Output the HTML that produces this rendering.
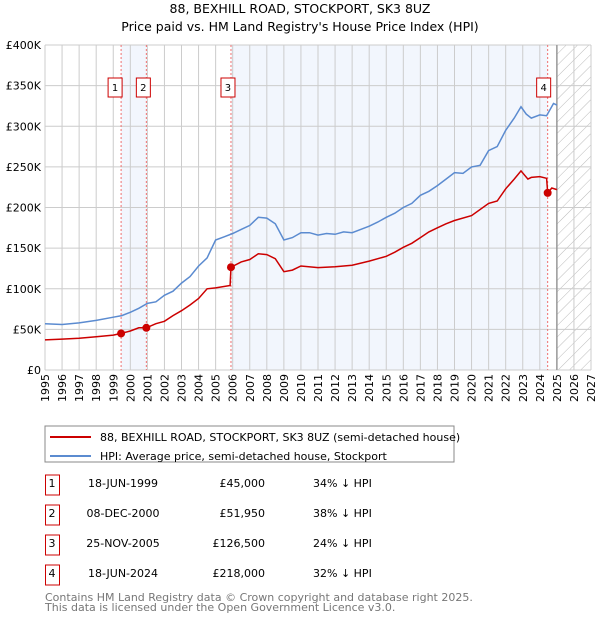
<!DOCTYPE html>
<html><head><meta charset="utf-8"><style>
body{margin:0;width:600px;height:620px;background:#fff;font-family:"Liberation Sans","DejaVu Sans",sans-serif;overflow:hidden}
svg text{font-family:"DejaVu Sans","Liberation Sans",sans-serif}
</style></head><body>
<svg id="c" width="600" height="620">
<defs><pattern id="hatch" width="8" height="8" patternUnits="userSpaceOnUse" patternTransform="rotate(45)"><line x1="0" y1="0" x2="0" y2="8" stroke="#bbb" stroke-width="1"/></pattern></defs>
<text x="300" y="13" text-anchor="middle" font-size="12.5">88, BEXHILL ROAD, STOCKPORT, SK3 8UZ</text>
<text x="300" y="31" text-anchor="middle" font-size="12.5">Price paid vs. HM Land Registry's House Price Index (HPI)</text>
<g id="plot"></g>
<rect x="45" y="426" width="409" height="36" fill="#fff" stroke="#888"/>
<line x1="50" y1="437" x2="91" y2="437" stroke="#cc0000" stroke-width="2"/>
<text x="100" y="441" font-size="11">88, BEXHILL ROAD, STOCKPORT, SK3 8UZ (semi-detached house)</text>
<line x1="50" y1="456" x2="91" y2="456" stroke="#5b8bd0" stroke-width="2"/>
<text x="100" y="460" font-size="11">HPI: Average price, semi-detached house, Stockport</text>
<g id="tbl" font-size="11"></g>
<text x="45" y="601" font-size="11" fill="#777">Contains HM Land Registry data © Crown copyright and database right 2025.</text>
<text x="45" y="611" font-size="11" fill="#777">This data is licensed under the Open Government Licence v3.0.</text>
</svg>
<script>
const hpiT=[1995,1996,1997,1998,1999,1999.5,2000,2000.5,2001,2001.5,2002,2002.5,2003,2003.5,2004,2004.5,2005,2005.5,2006,2006.5,2007,2007.5,2008,2008.5,2009,2009.5,2010,2010.5,2011,2011.5,2012,2012.5,2013,2013.5,2014,2014.5,2015,2015.5,2016,2016.5,2017,2017.5,2018,2018.5,2019,2019.5,2020,2020.5,2021,2021.5,2022,2022.5,2022.9,2023.2,2023.5,2024,2024.4,2024.8,2025];
const hpiV=[57,56,58,61,65,67,71,76,82,84,92,97,107,115,128,138,160,164,168,173,178,188,187,180,160,163,169,169,166,168,167,170,169,173,177,182,188,193,200,205,215,220,227,235,243,242,250,252,270,275,295,310,324,315,310,314,313,328,326];
const ppT=[1995,1996,1997,1998,1999,1999.46,2000,2000.5,2000.94,2001.5,2002,2002.5,2003,2003.5,2004,2004.5,2005,2005.85,2005.9,2006.5,2007,2007.5,2008,2008.5,2009,2009.5,2010,2011,2012,2013,2014,2015,2015.5,2016,2016.5,2017,2017.5,2018,2018.5,2019,2020,2021,2021.5,2022,2022.5,2022.9,2023.3,2023.5,2024,2024.4,2024.46,2024.7,2025];
const ppV=[37,38,39,41,43,45,48,52,51.95,57,60,67,73,80,88,100,101,104,126.5,133,136,143,142,137,121,123,128,126,127,129,134,140,145,151,156,163,170,175,180,184,190,205,208,223,235,245,235,237,238,236,218,224,222];
const saleT=[1999.46,2000.94,2005.9,2024.46];
const saleV=[45,51.95,126.5,218];
const saleLabels=["1","2","3","4"];
const saleDates=["18-JUN-1999","08-DEC-2000","25-NOV-2005","18-JUN-2024"];
const salePrices=["£45,000","£51,950","£126,500","£218,000"];
const saleHpi=["34% ↓ HPI","38% ↓ HPI","24% ↓ HPI","32% ↓ HPI"];
const yTicks=[0,50,100,150,200,250,300,350,400];
const yTickLabels=["£0","£50K","£100K","£150K","£200K","£250K","£300K","£350K","£400K"];
const X0=45,X1=591,Y0=370,Y1=45;
const xs=t=>X0+(t-1995)*(X1-X0)/32, ys=v=>Y0-v*(Y0-Y1)/400;
const NS="http://www.w3.org/2000/svg";
function mk(p,tag,a){const e=document.createElementNS(NS,tag);for(const k in a)e.setAttribute(k,a[k]);p.appendChild(e);return e;}
const g=document.getElementById('plot');
let e;
e=mk(g,'rect',{x:X0,y:Y1,width:X1-X0,height:Y0-Y1,fill:'#fff'});


e=mk(g,'rect',{x:xs(saleT[0]),y:Y1,width:xs(saleT[1])-xs(saleT[0]),height:Y0-Y1,fill:'#f2f6fd'});


e=mk(g,'rect',{x:xs(saleT[2]),y:Y1,width:xs(saleT[3])-xs(saleT[2]),height:Y0-Y1,fill:'#f2f6fd'});


e=mk(g,'rect',{x:xs(2025),y:Y1,width:X1-xs(2025),height:Y0-Y1,fill:'url(#hatch)'});


for(let y=1995;y<=2027;y++){e=mk(g,'line',{x1:xs(y),x2:xs(y),y1:Y1,y2:Y0,stroke:'#ccc','stroke-width':1});


const t=mk(g,'text',{x:0,y:0,'font-size':11,'text-anchor':'end',transform:`translate(${xs(y)+4},${Y0+4}) rotate(-90)`});t.textContent=y;

}
yTicks.forEach((v,i)=>{e=mk(g,'line',{x1:X0,x2:X1,y1:ys(v),y2:ys(v),stroke:'#ccc','stroke-width':1});


const t=mk(g,'text',{x:X0-4,y:ys(v)+4,'font-size':11,'text-anchor':'end'});t.textContent=yTickLabels[i];

});
e=mk(g,'line',{x1:xs(2025),x2:xs(2025),y1:Y1,y2:Y0,stroke:'#999','stroke-width':1.5});


saleT.forEach((t,i)=>{e=mk(g,'line',{x1:xs(t),x2:xs(t),y1:Y1,y2:Y0,stroke:'#f07070','stroke-dasharray':'2,2','stroke-width':1});


const r=mk(g,'rect',{x:xs(t)-(i<3?10:9)+(i==0?-3:i==3?-2:0),y:78,width:14,height:19,fill:'#fff',stroke:'#cc0000'});


const tx=mk(g,'text',{x:+r.getAttribute('x')+7,y:91,'font-size':10,'text-anchor':'middle'});tx.textContent=saleLabels[i];

});
function path(T,V,col,name){const d=T.map((t,i)=>(i?'L':'M')+xs(t).toFixed(1)+','+ys(V[i]).toFixed(1)).join('');
const p=mk(g,'path',{d,fill:'none',stroke:col,'stroke-width':1.5});

}
path(hpiT,hpiV,'#5b8bd0','hpi-line');
path(ppT,ppV,'#cc0000','price-paid-line');
saleT.forEach((t,i)=>{const c=mk(g,'circle',{cx:xs(t),cy:ys(saleV[i]),r:4,fill:'#cc0000'});

});
const tb=document.getElementById('tbl');
saleLabels.forEach((l,i)=>{const y=485+i*30;
const r=mk(tb,'rect',{x:45.5,y:y-10,width:14,height:20,fill:'#fff',stroke:'#cc0000'});


[[52,l,'middle'],[123,saleDates[i],'middle'],[265,salePrices[i],'end'],[313,saleHpi[i],'start']].forEach(([x,s,a])=>{const t=mk(tb,'text',{x,y:y+2,'text-anchor':a});t.textContent=s;

});});
</script>
</body></html>
